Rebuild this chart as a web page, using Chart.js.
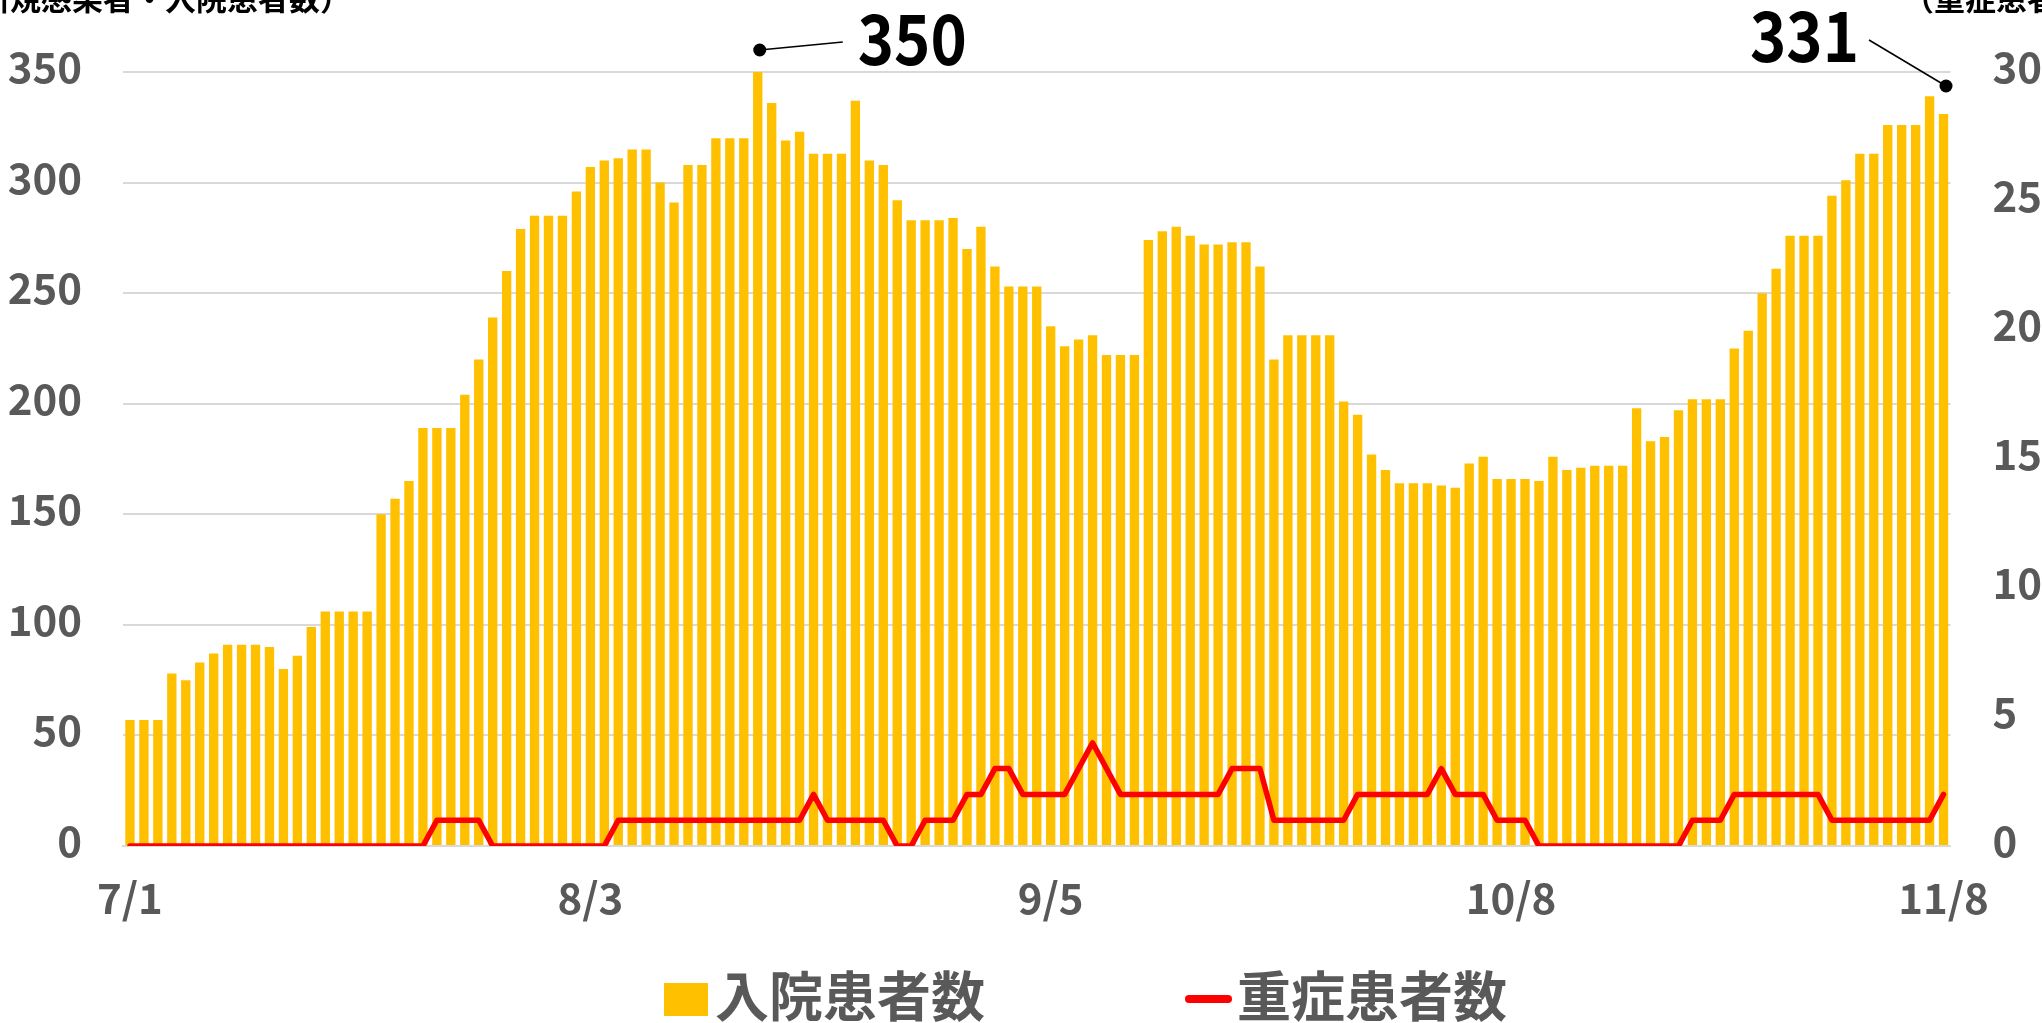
<!DOCTYPE html>
<html><head><meta charset="utf-8">
<script src="https://cdn.jsdelivr.net/npm/chart.js@4.4.1/dist/chart.umd.min.js"></script>
<style>html,body{margin:0;padding:0;background:#fff;overflow:hidden}#c{display:block}</style>
</head><body>
<canvas id="c" width="2042" height="1023"></canvas>
<script>
const categories = [
'7/1','7/2','7/3','7/4','7/5','7/6','7/7','7/8','7/9','7/10','7/11','7/12','7/13','7/14','7/15','7/16','7/17','7/18','7/19','7/20','7/21','7/22','7/23','7/24','7/25','7/26','7/27','7/28','7/29','7/30','7/31',
'8/1','8/2','8/3','8/4','8/5','8/6','8/7','8/8','8/9','8/10','8/11','8/12','8/13','8/14','8/15','8/16','8/17','8/18','8/19','8/20','8/21','8/22','8/23','8/24','8/25','8/26','8/27','8/28','8/29','8/30','8/31',
'9/1','9/2','9/3','9/4','9/5','9/6','9/7','9/8','9/9','9/10','9/11','9/12','9/13','9/14','9/15','9/16','9/17','9/18','9/19','9/20','9/21','9/22','9/23','9/24','9/25','9/26','9/27','9/28','9/29','9/30',
'10/1','10/2','10/3','10/4','10/5','10/6','10/7','10/8','10/9','10/10','10/11','10/12','10/13','10/14','10/15','10/16','10/17','10/18','10/19','10/20','10/21','10/22','10/23','10/24','10/25','10/26','10/27','10/28','10/29','10/30','10/31',
'11/1','11/2','11/3','11/4','11/5','11/6','11/7','11/8'];

const tickLabels = ['7/1','8/3','9/5','10/8','11/8'];

const inpatients = [
57,57,57,78,75,83,87,91,91,91,
90,80,86,99,106,106,106,106,150,157,
165,189,189,189,204,220,239,260,279,285,
285,285,296,307,310,311,315,315,300,291,
308,308,320,320,320,350,336,319,323,313,
313,313,337,310,308,292,283,283,283,284,
270,280,262,253,253,253,235,226,229,231,
222,222,222,274,278,280,276,272,272,273,
273,262,220,231,231,231,231,201,195,177,
170,164,164,164,163,162,173,176,166,166,
166,165,176,170,171,172,172,172,198,183,
185,197,202,202,202,225,233,250,261,276,
276,276,294,301,313,313,326,326,326,339,
331];

const severe = [
0,0,0,0,0,0,0,0,0,0,
0,0,0,0,0,0,0,0,0,0,
0,0,1,1,1,1,0,0,0,0,
0,0,0,0,0,1,1,1,1,1,
1,1,1,1,1,1,1,1,1,2,
1,1,1,1,1,0,0,1,1,1,
2,2,3,3,2,2,2,2,3,4,
3,2,2,2,2,2,2,2,2,3,
3,3,1,1,1,1,1,1,2,2,
2,2,2,2,3,2,2,2,1,1,
1,0,0,0,0,0,0,0,0,0,
0,0,1,1,1,2,2,2,2,2,
2,2,1,1,1,1,1,1,1,1,
2];

const leftTitle = '（新規感染者・入院患者数）';
const rightTitle = '（重症患者数）';
const barLabel = '入院患者数';
const lineLabel = '重症患者数';
const calloutIndices = [45, 130];

const FONT = '"Noto Sans CJK JP", "Noto Sans", sans-serif';
const GRAY = '#595959';

const callouts = [
  {dot:[2,-22], lineEnd:[83,-8], text:[98,-12], align:'left'},
  {dot:[2.5,-28], lineEnd:[-77,-46], text:[-87,-51], align:'right'}
];

function drawNarrowText(ctx, txt, x, y, align, sx) {
  ctx.save();
  ctx.translate(x, y);
  ctx.scale(sx, 1);
  ctx.textAlign = align;
  ctx.fillText(txt, 0, 0);
  ctx.restore();
}

const extrasPlugin = {
  id: 'extras',
  afterDraw(chart) {
    const ctx = chart.ctx;
    const xs = chart.scales.x, ys = chart.scales.y;
    ctx.save();
    // axis titles (partly off-canvas as in the original)
    ctx.fillStyle = '#000';
    ctx.font = 'bold 31px ' + FONT;
    ctx.textBaseline = 'alphabetic';
    ctx.textAlign = 'right';
    ctx.fillText(leftTitle, 351, 10);
    ctx.textAlign = 'left';
    ctx.fillText(rightTitle, 1903, 10);

    // callouts
    calloutIndices.forEach((idx, k) => {
      const c = callouts[k];
      const px = xs.getPixelForValue(idx);
      const py = ys.getPixelForValue(inpatients[idx]);
      const dx = px + c.dot[0], dy = py + c.dot[1];
      ctx.strokeStyle = '#000';
      ctx.lineWidth = 1.5;
      ctx.beginPath();
      ctx.moveTo(dx, dy);
      ctx.lineTo(dx + c.lineEnd[0], dy + c.lineEnd[1]);
      ctx.stroke();
      ctx.fillStyle = '#000';
      ctx.beginPath();
      ctx.arc(dx, dy, 6.5, 0, Math.PI * 2);
      ctx.fill();
      ctx.font = 'bold 70px ' + FONT;
      ctx.textBaseline = 'middle';
      drawNarrowText(ctx, String(inpatients[idx]), dx + c.text[0], dy + c.text[1], c.align, 0.88);
    });

    // legend
    ctx.fillStyle = '#FFC000';
    ctx.fillRect(664, 983, 44, 33);
    ctx.fillStyle = GRAY;
    ctx.font = 'bold 54px ' + FONT;
    ctx.textAlign = 'left';
    ctx.textBaseline = 'middle';
    ctx.fillText(barLabel, 715, 996);
    ctx.strokeStyle = '#FF0000';
    ctx.lineWidth = 8;
    ctx.lineCap = 'round';
    ctx.beginPath();
    ctx.moveTo(1189, 999);
    ctx.lineTo(1228, 999);
    ctx.stroke();
    ctx.fillText(lineLabel, 1237, 996);
    ctx.restore();
  }
};

const tickFont = {family: FONT, size: 42, weight: 'bold'};

new Chart(document.getElementById('c'), {
  data: {
    labels: categories,
    datasets: [
      {type: 'line', label: lineLabel, data: severe, yAxisID: 'y2',
       borderColor: '#FF0000', backgroundColor: '#FF0000', borderWidth: 5.5,
       pointRadius: 0, pointHoverRadius: 0, tension: 0, borderJoinStyle: 'round', borderCapStyle: 'round', order: 0},
      {type: 'bar', label: barLabel, data: inpatients, yAxisID: 'y',
       backgroundColor: '#FFC000', categoryPercentage: 1, barPercentage: 0.67, order: 1}
    ]
  },
  options: {
    responsive: false, animation: false, devicePixelRatio: 1,
    layout: {padding: {top: 72, left: 0, right: 0, bottom: 0}},
    plugins: {legend: {display: false}, tooltip: {enabled: false}},
    scales: {
      x: {
        grid: {display: false, drawTicks: false},
        border: {display: true, color: '#d9d9d9', width: 2},
        ticks: {autoSkip: false, maxRotation: 0, minRotation: 0, padding: 27, color: GRAY, font: tickFont,
                callback: (v, i) => tickLabels.includes(categories[i]) ? categories[i] : null},
        afterFit: s => { s.height = 177; }
      },
      y: {
        position: 'left', min: 0, max: 350,
        ticks: {stepSize: 50, padding: 41, labelOffset: -5, color: GRAY, font: tickFont},
        grid: {color: '#d9d9d9', lineWidth: 2, drawTicks: false},
        border: {display: false},
        afterFit: s => { s.width = 123; }
      },
      y2: {
        position: 'right', min: 0, max: 30,
        ticks: {stepSize: 5, padding: 42, labelOffset: -5, color: GRAY, font: tickFont},
        grid: {drawOnChartArea: false, drawTicks: false},
        border: {display: false},
        afterFit: s => { s.width = 91.5; }
      }
    }
  },
  plugins: [extrasPlugin]
});
</script>
</body></html>
